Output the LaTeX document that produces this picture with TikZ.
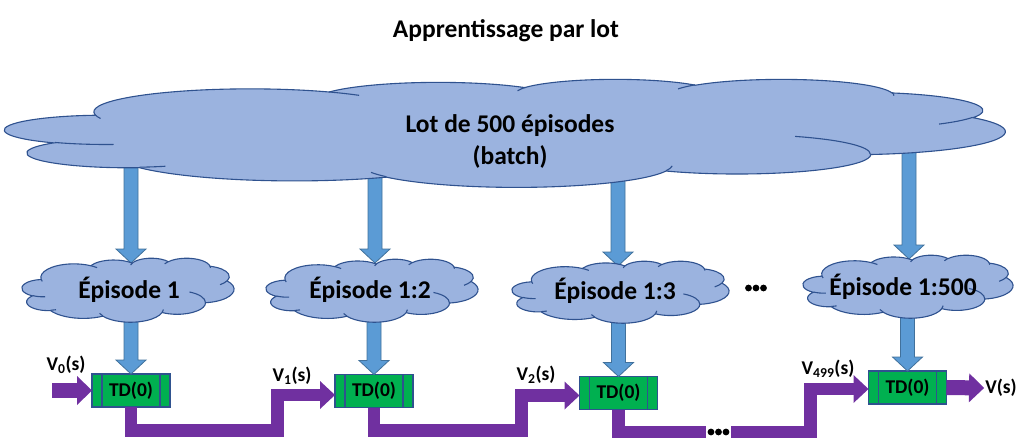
\documentclass[tikz,border=0pt]{standalone}
\usepackage{fontspec}
\setmainfont{Carlito}
\usetikzlibrary{arrows.meta,calc}
\definecolor{cloudfill}{HTML}{9BB3DF}
\definecolor{cloudline}{HTML}{2F528F}
\definecolor{arrfill}{HTML}{5B9BD5}
\definecolor{arrline}{HTML}{41719C}
\definecolor{tdgreen}{HTML}{00B050}
\definecolor{tdline}{HTML}{2F528F}
\definecolor{purp}{HTML}{7030A0}
\newcommand\bigf{\fontsize{25.5}{32}\selectfont\bfseries}
\newcommand\smallf{\fontsize{19.5}{22}\selectfont\bfseries}
% PowerPoint cloud arcs: id, wR, hR, start angle, sweep (visual angles)
\newcommand\arcdef[5]{%
  \pgfmathsetmacro\tmpS{atan2((#2)*sin(#4),(#3)*cos(#4))}%
  \pgfmathsetmacro\tmpE{atan2((#2)*sin((#4)+(#5)),(#3)*cos((#4)+(#5)))}%
  \pgfmathsetmacro\tmpD{mod((\tmpE)-(\tmpS)+720,360)}%
  \expandafter\xdef\csname cS#1\endcsname{\tmpS}%
  \expandafter\xdef\csname cD#1\endcsname{\tmpD}%
  \expandafter\xdef\csname cA#1\endcsname{#2}%
  \expandafter\xdef\csname cB#1\endcsname{#3}%
}
\newcommand\parc[1]{arc[x radius=\csname cA#1\endcsname, y radius=\csname cB#1\endcsname, start angle=\csname cS#1\endcsname, delta angle=\csname cD#1\endcsname]}
\arcdef{1}{67.53}{91.90}{-190.48748}{123.78053}
\arcdef{2}{53.33}{72.67}{-144.10238}{89.94523}
\arcdef{3}{43.65}{59.45}{-145.80792}{99.72302}
\arcdef{4}{48.57}{65.95}{-130.98607}{117.24173}
\arcdef{5}{53.33}{72.73}{-78.70888}{109.02692}
\arcdef{6}{67.75}{92.20}{-46.26725}{130.269}
\arcdef{7}{57.85}{78.67}{0.62502}{114.03333}
\arcdef{8}{67.52}{92.15}{22.4516}{115.17255}
\arcdef{9}{77.20}{105.43}{66.24263}{75.71102}
\arcdef{10}{43.60}{59.18}{-274.94208}{146.73557}
\arcdef{11}{43.45}{59.45}{-246.8285}{152.51885}
\arcdef{a}{43.45}{59.45}{86.742}{26.4295}
\arcdef{b}{43.60}{59.18}{73.61047}{11.44747}
\arcdef{c}{67.52}{92.15}{137.62415}{14.0811}
\arcdef{d}{67.52}{92.15}{6.45327}{15.99835}
\arcdef{e}{57.85}{78.67}{-70.29235}{70.91737}
\arcdef{f}{53.33}{72.73}{30.31803}{27.7515}
\arcdef{g}{48.57}{65.95}{-13.74433}{14.8589}
\arcdef{h}{48.57}{65.95}{-149.18145}{18.19537}
\arcdef{i}{43.65}{59.45}{-163.49427}{17.68635}
\arcdef{j}{67.53}{91.90}{-66.70695}{12.31935}
\arcdef{k}{67.53}{91.90}{157.65435}{11.85817}
\newcommand\pptcloud[4]{%
  \pgfmathsetmacro\cw{#3/432}\pgfmathsetmacro\ch{#4/432}%
  \begin{scope}[shift={(#1,#2)}, x=\cw pt, y=-\ch pt]
    \filldraw[cloudbody] (39.00,143.70) \parc{1} \parc{2} \parc{3} \parc{4} \parc{5} \parc{6} \parc{7} \parc{8} \parc{9} \parc{10} \parc{11} -- cycle;
    \draw[cloudinner] (46.93,261.77) \parc{a} (69.28,348.99) \parc{b} (164.78,390.90) \parc{c} (288.27,347.51) \parc{d} (341.29,229.54) \parc{e} (417.98,153.54) \parc{f} (383.24,54.26) \parc{g} (290.78,39.52) \parc{h} (221.41,47.20) \parc{i} (140.00,51.92) \parc{j} (41.27,157.89) \parc{k};
  \end{scope}}
\newcommand\fatdown[2]{%
  \draw[bluearr] let \p1=(#1), \p2=(#2) in (\x2,\y2) -- (\x2-15pt,\y2+14pt) -- (\x2-7pt,\y2+14pt) -- (\x2-7pt,\y1) -- (\x2+7pt,\y1) -- (\x2+7pt,\y2+14pt) -- (\x2+15pt,\y2+14pt) -- cycle;}
\newcommand\threedots[1]{%
  \foreach \dx in {-7.5,0,7.5}{\fill ([xshift=\dx pt]#1.center) circle (3.4pt);}}
\begin{document}
\begin{tikzpicture}[x=1pt,y=-1pt,
  cloudbody/.style={fill=cloudfill, draw=cloudline, line width=1.1pt},
  cloudinner/.style={draw=cloudline, line width=1.1pt},
  bluearr/.style={fill=arrfill, draw=arrline, line width=0.8pt},
  tdbox/.style={draw=tdline, fill=tdgreen, line width=1.2pt, minimum width=78pt, minimum height=33pt, inner sep=0pt, outer sep=0pt, font=\smallf},
  tdedge/.style={draw=tdline, line width=1.2pt},
  bigtxt/.style={font=\bigf, inner sep=1pt, align=center},
  lbl/.style={font=\smallf, inner sep=1pt},
  dotsbox/.style={minimum width=22pt, minimum height=8pt, inner sep=0pt, outer sep=1.5pt},
  purpc/.style={draw=purp, line width=12.5pt, line join=miter, -{Triangle[width=28pt,length=15pt,line width=0pt]}},
  purps/.style={draw=purp, line width=15pt, -{Triangle[width=29pt,length=15pt,line width=0pt]}},
  purpl/.style={draw=purp, line width=12.5pt, line join=miter}]
\useasboundingbox (0,0) rectangle (1024,447);
\node[bigtxt] (title) at (506,31) {Apprentissage par lot};
% anchor points
\coordinate (bc) at (510,135);
\coordinate (cc1) at (128,290);
\coordinate (cc2) at (372,290);
\coordinate (cc3) at (620,292);
\coordinate (cc4) at (908,287);
\coordinate (t1) at (131,263);
\coordinate (t2) at (375,263);
\coordinate (t3) at (618,266);
\coordinate (t4) at (909,259);
% TD boxes
\node[tdbox] (td1) at (131,390.5) {TD(0)};
\node[tdbox] (td2) at (374,391) {TD(0)};
\node[tdbox] (td3) at (618.5,393) {TD(0)};
\node[tdbox] (td4) at (907.5,387.5) {TD(0)};
\foreach \n in {1,2,3,4}{
  \draw[tdedge] ([xshift=10pt]td\n.north west) -- ([xshift=10pt]td\n.south west);
  \draw[tdedge] ([xshift=-10pt]td\n.north east) -- ([xshift=-10pt]td\n.south east);
}
% blue arrows
\fatdown{bc}{t1}
\fatdown{bc}{t2}
\fatdown{bc}{t3}
\fatdown{bc}{t4}
\fatdown{cc1}{td1.north}
\fatdown{cc2}{td2.north}
\fatdown{cc3}{td3.north}
\fatdown{cc4}{td4.north}
% clouds
\pptcloud{5}{79}{1000}{108}
\pptcloud{22}{258}{212}{64}
\pptcloud{266}{259}{212}{63}
\pptcloud{512}{261}{217}{62}
\pptcloud{803}{255}{210}{63}
% cloud texts
\node[bigtxt] (batch) at (510,141) {Lot de 500 épisodes\\(batch)};
\node[bigtxt] (ep1) at (129,290) {Épisode 1};
\node[bigtxt] (ep2) at (370,290) {Épisode 1:2};
\node[bigtxt] (ep3) at (615,291) {Épisode 1:3};
\node[dotsbox] (edots) at (756,288) {};
\threedots{edots}
\node[bigtxt] (ep4) at (903,287) {Épisode 1:500};
% labels
\node[lbl] (v0) at (66,365) {V\textsubscript{0}(s)};
\node[lbl] (v1) at (292,376) {V\textsubscript{1}(s)};
\node[lbl] (v2) at (536,375) {V\textsubscript{2}(s)};
\node[lbl] (v499) at (828,369) {V\textsubscript{499}(s)};
\node[lbl] (vs) at (1001,388) {V(s)};
\node[dotsbox] (dots) at (718.5,432) {};
\threedots{dots}
% purple connectors
\coordinate (vin) at (52,390.5);
\coordinate (k1) at (277.5,430.5);
\coordinate (k2) at (521.5,430.5);
\coordinate (k4) at (810.5,389);
\draw[purps] (vin) -- (td1.west);
\draw[purpc] (td1.south) |- (k1) |- ([yshift=-4pt]td2.west);
\draw[purpc] (td2.south) |- (k2) |- ([yshift=-2.5pt]td3.west);
\draw[purpl] (td3.south) |- (dots.west);
\draw[purpc] (dots.east) -| (k4) -- (k4 -| td4.west);
\draw[purps] (td4.east) -- (vs.west);
\end{tikzpicture}
\end{document}
